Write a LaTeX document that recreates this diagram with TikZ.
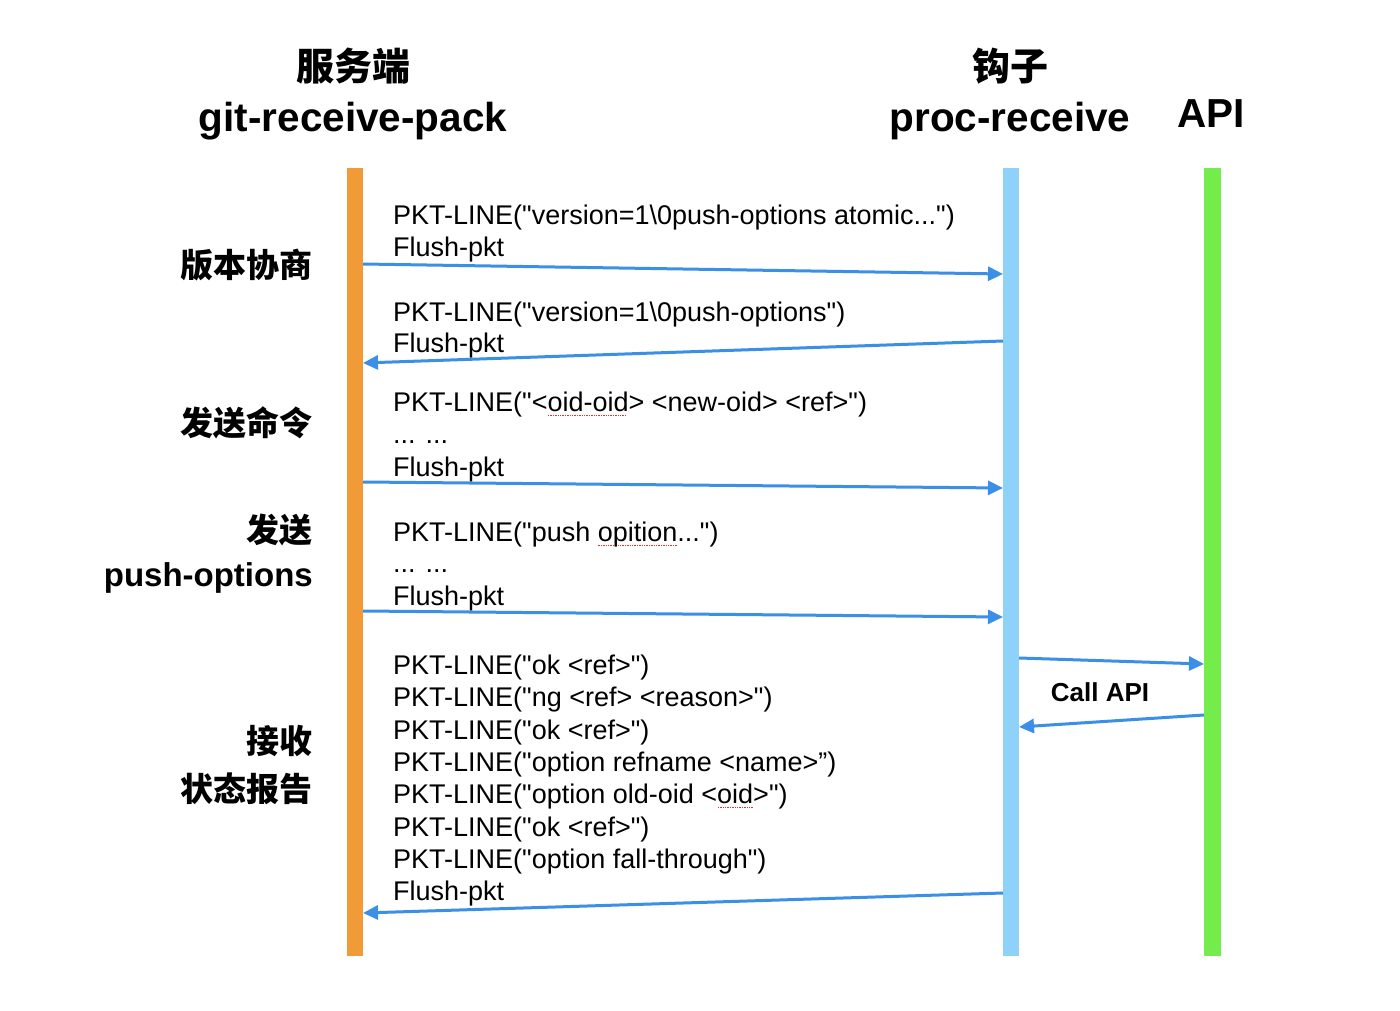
\documentclass[tikz,border=0pt]{standalone}
\usepackage{fontspec}
\setmainfont{Liberation Sans}[Ligatures=TeXOff]
\newfontfamily\cjk{Noto Sans CJK SC}
\usetikzlibrary{arrows.meta}
\definecolor{barorange}{HTML}{F19A38}
\definecolor{barblue}{HTML}{8ED2FA}
\definecolor{bargreen}{HTML}{74EC4B}
\definecolor{arrowblue}{HTML}{3C8FE6}
\definecolor{spellred}{HTML}{E8302C}
\newcommand\dq{\symbol{34}}
\newsavebox\spellbox
\newcommand\spellmark[1]{\sbox\spellbox{#1}\rlap{\raisebox{-5pt}{\color{spellred}\hbox to \wd\spellbox{\leaders\hbox to 2.4pt{\hss\rule{1.4pt}{1.4pt}\hss}\hfill}}}\usebox\spellbox}
\tikzset{
  msg/.style={anchor=base west, inner sep=0pt, font=\fontsize{27}{32}\selectfont},
  head/.style={inner sep=0pt, font=\fontsize{40.5}{48}\selectfont\bfseries},
  headcjk/.style={inner sep=0pt, font=\fontsize{38}{46}\selectfont\cjk\bfseries},
  lab/.style={inner sep=0pt, font=\fontsize{33}{40}\selectfont\bfseries},
  labcjk/.style={inner sep=0pt, font=\fontsize{33}{40}\selectfont\cjk\bfseries},
  arr/.style={draw=arrowblue, line width=3pt, -{Triangle[length=15pt,width=14pt]}},
  lifeline/.style={inner sep=0pt, minimum width=16pt, minimum height=788pt, anchor=north}
}
\begin{document}
\begin{tikzpicture}[x=1pt,y=-1pt]
\useasboundingbox (0,0) rectangle (1400,1011);
\fill[white] (0,0) rectangle (1400,1011);
% lifelines
\node[lifeline, fill=barorange] (srv) at (355,168) {};
\node[lifeline, fill=barblue] (hook) at (1011,168) {};
\node[lifeline, fill=bargreen, minimum width=17pt] (api) at (1212.5,168) {};
% headers
\node[headcjk, anchor=center] (h1c) at (353,66) {服务端};
\node[head, anchor=base] (h1) at (353,132) {git-receive-pack};
\node[headcjk, anchor=center] (h2c) at (1010,66) {钩子};
\node[head, anchor=base] (h2) at (1010,132) {proc-receive};
\node[head, anchor=base] (h3) at (1211,128) {API};
% left labels
\node[labcjk, anchor=east] (l1) at (313,265) {版本协商};
\node[labcjk, anchor=east] (l2) at (313,423) {发送命令};
\node[labcjk, anchor=east] (l3a) at (313,530) {发送};
\node[lab, anchor=base east] (l3b) at (313,586) {push-options};
\node[labcjk, anchor=east] (l4a) at (313,741) {接收};
\node[labcjk, anchor=east] (l4b) at (313,789) {状态报告};
% messages
\node[msg] (m1a) at (393,225) {PKT-LINE(\dq version=1\textbackslash 0push-options atomic...\dq)};
\node[msg] (m1b) at (393,256) {Flush-pkt};
\node[msg] (m2a) at (393,321) {PKT-LINE(\dq version=1\textbackslash 0push-options\dq)};
\node[msg] (m2b) at (393,352) {Flush-pkt};
\node[msg] (m3a) at (393,411) {PKT-LINE(\dq<\spellmark{oid-oid}> <new-oid> <ref>\dq)};
\node[msg] (m3b) at (393,443) {... ...};
\node[msg] (m3c) at (393,476) {Flush-pkt};
\node[msg] (m4a) at (393,541) {PKT-LINE(\dq push \spellmark{opition}...\dq)};
\node[msg] (m4b) at (393,572) {... ...};
\node[msg] (m4c) at (393,605) {Flush-pkt};
\node[msg] (m5a) at (393,674) {PKT-LINE(\dq ok <ref>\dq)};
\node[msg] (m5b) at (393,706) {PKT-LINE(\dq ng <ref> <reason>\dq)};
\node[msg] (m5c) at (393,739) {PKT-LINE(\dq ok <ref>\dq)};
\node[msg] (m5d) at (393,771) {PKT-LINE(\dq option refname <name>”)};
\node[msg] (m5e) at (393,803) {PKT-LINE(\dq option old-oid <\spellmark{oid}>\dq)};
\node[msg] (m5f) at (393,836) {PKT-LINE(\dq ok <ref>\dq)};
\node[msg] (m5g) at (393,868) {PKT-LINE(\dq option fall-through\dq)};
\node[msg] (m5h) at (393,900) {Flush-pkt};
\node[inner sep=0pt, anchor=base, font=\fontsize{26}{30}\selectfont\bfseries] (call) at (1100,701) {Call API};
% arrow endpoints
\coordinate (a1s) at (363,264);  \coordinate (a1e) at (1003,274);
\coordinate (a2s) at (1003,341); \coordinate (a2e) at (363,363);
\coordinate (a3s) at (363,482);  \coordinate (a3e) at (1003,488);
\coordinate (a4s) at (363,611);  \coordinate (a4e) at (1003,617);
\coordinate (a5s) at (1019,658); \coordinate (a5e) at (1204,664);
\coordinate (a6s) at (1204,715); \coordinate (a6e) at (1019,727);
\coordinate (a7s) at (1003,893); \coordinate (a7e) at (363,913);
\draw[arr] (a1s) -- (a1e);
\draw[arr] (a2s) -- (a2e);
\draw[arr] (a3s) -- (a3e);
\draw[arr] (a4s) -- (a4e);
\draw[arr] (a5s) -- (a5e);
\draw[arr] (a6s) -- (a6e);
\draw[arr] (a7s) -- (a7e);
\end{tikzpicture}
\end{document}
